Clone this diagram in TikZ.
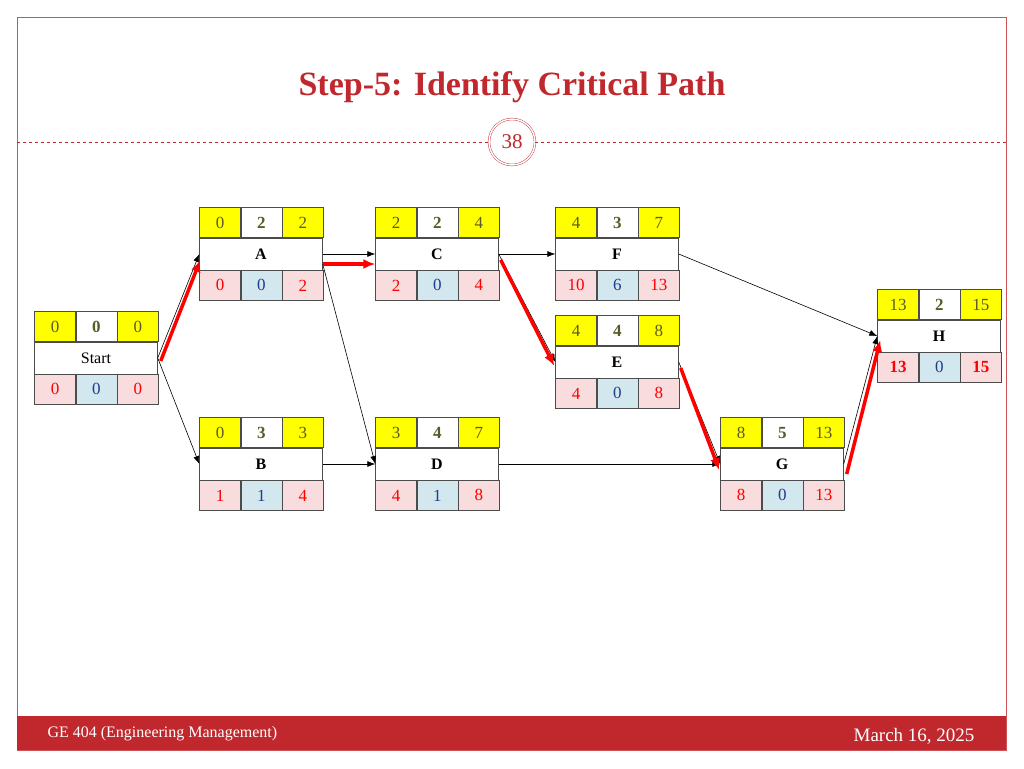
\documentclass[tikz,border=0pt]{standalone}
\usepackage{fontspec}
\setmainfont{Liberation Serif}
\usetikzlibrary{arrows.meta,calc,positioning}
\definecolor{slidered}{RGB}{192,40,45}
\definecolor{cellyellow}{RGB}{255,255,0}
\definecolor{cellpink}{RGB}{248,220,222}
\definecolor{cellblue}{RGB}{210,232,238}
\definecolor{numolive}{RGB}{90,90,40}
\definecolor{numblue}{RGB}{30,60,140}
\tikzset{
  cell/.style={draw=black!70,minimum width=41pt,minimum height=30pt,inner sep=0pt,
    font=\fontsize{17}{17}\selectfont},
  es/.style={cell,fill=cellyellow,text=numolive},
  dur/.style={cell,fill=white,text=numolive,font=\fontsize{17}{17}\selectfont\bfseries},
  late/.style={cell,fill=cellpink,text=red},
  slack/.style={cell,fill=cellblue,text=numblue},
  midrow/.style={draw=black!70,minimum width=123pt,minimum height=32pt,inner sep=0pt,
    font=\fontsize{16}{16}\selectfont\bfseries},
  link/.style={-{Latex[length=8pt,width=6pt]},semithick},
  crit/.style={-{Latex[length=12pt,width=10pt]},red,line width=3.5pt}
}
% activity box: name, label, x, y (centre), ES, duration, EF, LS, slack, LF
\newcommand{\actbox}[9]{%
  \node[midrow] (#1) at (#2) {#3};
  \node[es,anchor=south west] (#1-es) at (#1.north west) {#4};
  \node[dur,right=0pt of #1-es] (#1-d) {#5};
  \node[es,right=0pt of #1-d] (#1-ef) {#6};
  \node[late,anchor=north west] (#1-ls) at (#1.south west) {#7};
  \node[slack,right=0pt of #1-ls] (#1-sl) {#8};
  \node[late,right=0pt of #1-sl] (#1-lf) {#9};
}
\begin{document}
\begin{tikzpicture}[x=1pt,y=-1pt]
\useasboundingbox (0,0) rectangle (1024,768);
\fill[white] (0,0) rectangle (1024,768);
% slide frame
\draw[slidered!80,thin] (17,17) rectangle (1006,750);
\fill[slidered] (17,716) rectangle (1006,750);
\node[text=slidered,font=\fontsize{34}{34}\selectfont\bfseries] (title) at (512,87) {Step-5: Identify Critical Path};
\node[draw=slidered,circle,double,double distance=1.5pt,minimum size=46pt,text=slidered,
  font=\fontsize{21}{21}\selectfont] (pg) at (512,142) {38};
\coordinate (rl) at (17,142);
\coordinate (rr) at (1006,142);
\draw[slidered,dashed,thin] (rl) -- (pg.west) (pg.east) -- (rr);
\node[text=white,anchor=west,font=\fontsize{16}{16}\selectfont] (course) at (44,734) {GE 404 (Engineering Management)};
\node[text=white,anchor=east,font=\fontsize{19}{19}\selectfont] (date) at (978,736) {March 16, 2025};
% activities
\actbox{S}{96,358}{\mdseries Start}{0}{0}{0}{0}{0}{0}
\actbox{A}{261,254}{A}{0}{2}{2}{0}{0}{2}
\actbox{C}{437,254}{C}{2}{2}{4}{2}{0}{4}
\actbox{F}{617,254}{F}{4}{3}{7}{10}{6}{13}
\actbox{E}{617,362}{E}{4}{4}{8}{4}{0}{8}
\actbox{B}{261,464}{B}{0}{3}{3}{1}{1}{4}
\actbox{D}{437,464}{D}{3}{4}{7}{4}{1}{8}
\actbox{G}{782,464}{G}{8}{5}{13}{8}{0}{13}
\actbox{H}{939,336}{H}{13}{2}{15}{\textbf{13}}{0}{\textbf{15}}
% dependencies
\draw[link] (S.east) -- (A.west);
\draw[link] (S.east) -- (B.west);
\draw[link] (A.east) -- (C.west);
\draw[link] ([yshift=-10pt]A.east) -- (D.west);
\draw[link] (B.east) -- (D.west);
\draw[link] (C.east) -- (F.west);
\draw[link] (C.east) -- (E.west);
\draw[link] (F.east) -- (H.west);
\draw[link] (E.east) -- (G.west);
\draw[link] (D.east) -- (G.west);
\draw[link] (G.east) -- (H.west);
% critical path
\draw[crit] ([xshift=3pt,yshift=-3pt]S.east) -- ([xshift=1pt,yshift=-6pt]A.west);
\draw[crit] ([yshift=-10pt]A.east) -- ([yshift=-10pt]C.west);
\draw[crit] ([xshift=2pt,yshift=-6pt]C.east) -- ([xshift=-1pt,yshift=-4pt]E.west);
\draw[crit] ([xshift=2pt,yshift=-6pt]E.east) -- ([xshift=-1pt,yshift=-6pt]G.west);
\draw[crit] ([xshift=3pt,yshift=-10pt]G.east) -- ([xshift=3pt,yshift=-4pt]H.west);
\end{tikzpicture}
\end{document}
